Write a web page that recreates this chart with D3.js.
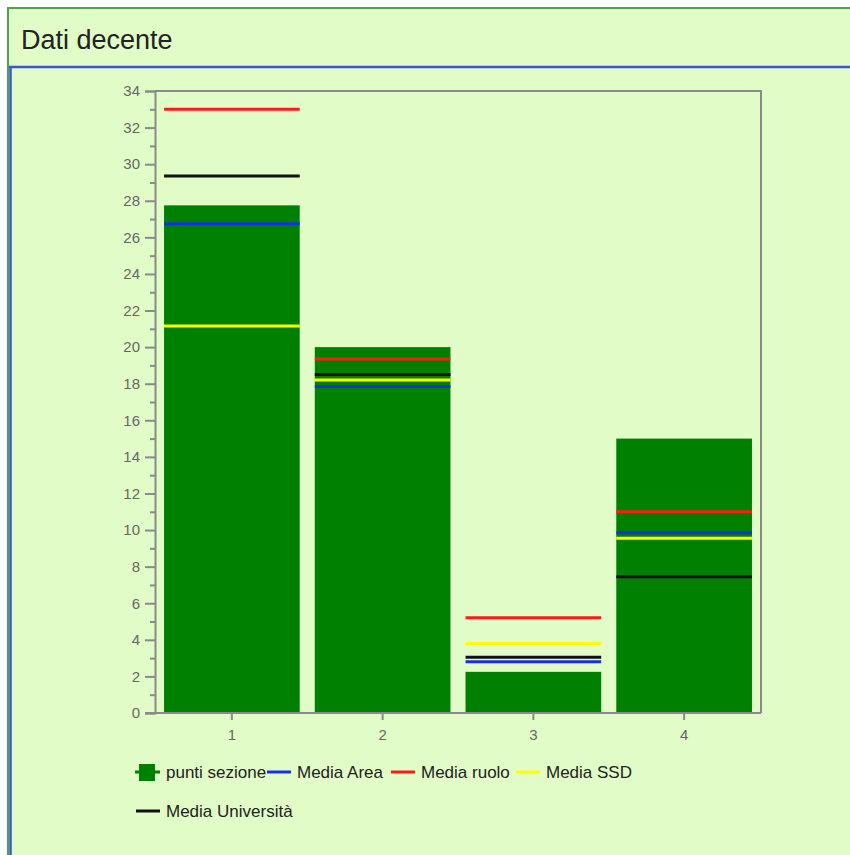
<!DOCTYPE html>
<html>
<head>
<meta charset="utf-8">
<script src="https://cdn.jsdelivr.net/npm/d3@7"></script>
<style>
  html, body { margin: 0; padding: 0; background: #ffffff; }
  svg { display: block; font-family: "Liberation Sans", Arial, sans-serif; }
</style>
</head>
<body>
<svg id="chart" width="850" height="855"></svg>
<script>
// ---- data ----
const title = "Dati decente";
const categories = ["1", "2", "3", "4"];
const puntiSezione = [27.75, 20.0, 2.25, 15.0];
const mediaArea = [26.75, 17.85, 2.8, 9.85];
const mediaRuolo = [33.0, 19.35, 5.2, 11.0];
const mediaSSD = [21.15, 18.2, 3.8, 9.55];
const mediaUniversita = [29.35, 18.5, 3.05, 7.45];
const yTicks = d3.range(0, 35, 2);
const yMinorTicks = d3.range(1, 34, 2);

const seriesLines = [
  { name: "Media Area", values: mediaArea, color: "#1530e0" },
  { name: "Media ruolo", values: mediaRuolo, color: "#ff1a1a" },
  { name: "Media SSD", values: mediaSSD, color: "#ffff00" },
  { name: "Media Università", values: mediaUniversita, color: "#111111" }
];
// draw order (bottom to top) to mimic overlaps
const drawOrder = ["Media Area", "Media SSD", "Media Università", "Media ruolo"];

const svg = d3.select("#chart");
const bg = "#e1fcc7";

// panel background and borders
svg.append("rect").attr("x", 8).attr("y", 8).attr("width", 842).attr("height", 847).attr("fill", bg);
svg.append("line").attr("x1", 7).attr("x2", 850).attr("y1", 8).attr("y2", 8)
  .attr("stroke", "#4aa64a").attr("stroke-width", 2);
svg.append("line").attr("x1", 8).attr("x2", 8).attr("y1", 7).attr("y2", 855)
  .attr("stroke", "#4aa64a").attr("stroke-width", 2);
svg.append("line").attr("x1", 9).attr("x2", 850).attr("y1", 67).attr("y2", 67)
  .attr("stroke", "#3a55d8").attr("stroke-width", 2.5);
svg.append("line").attr("x1", 10.5).attr("x2", 10.5).attr("y1", 66).attr("y2", 855)
  .attr("stroke", "#3a55d8").attr("stroke-width", 2.5);

svg.append("text").attr("x", 21).attr("y", 49)
  .attr("font-size", 27).attr("fill", "#222").text(title);

// ---- scales ----
const plot = { left: 155, right: 761, top: 91, bottom: 713 };
const x = d3.scaleBand().domain(categories).range([plot.left, plot.right])
  .paddingInner(0.1).paddingOuter(0.06);
const y = d3.scaleLinear().domain([0, 34]).range([plot.bottom, plot.top]);

const axisColor = "#8a8a8a";

// bars
svg.append("g").selectAll("rect").data(categories).join("rect")
  .attr("x", d => x(d))
  .attr("width", x.bandwidth())
  .attr("y", (d, i) => y(puntiSezione[i]))
  .attr("height", (d, i) => y(0) - y(puntiSezione[i]))
  .attr("fill", "#008000");

// mean lines
const lineG = svg.append("g");
drawOrder.forEach(name => {
  const s = seriesLines.find(z => z.name === name);
  lineG.append("g").selectAll("line").data(categories).join("line")
    .attr("x1", d => x(d))
    .attr("x2", d => x(d) + x.bandwidth())
    .attr("y1", (d, i) => y(s.values[i]))
    .attr("y2", (d, i) => y(s.values[i]))
    .attr("stroke", s.color).attr("stroke-width", 3);
});

// frame
svg.append("path")
  .attr("d", `M${plot.left},${plot.top}H${plot.right}V${plot.bottom}`)
  .attr("fill", "none").attr("stroke", axisColor).attr("stroke-width", 2);

// y axis
const yAxis = d3.axisLeft(y).tickValues(yTicks).tickSize(10).tickPadding(5).tickFormat(d3.format("d"));
const yg = svg.append("g").attr("transform", `translate(${plot.left},0)`).call(yAxis);
yg.select(".domain").attr("stroke", axisColor).attr("stroke-width", 2);
yg.selectAll(".tick line").attr("stroke", axisColor).attr("stroke-width", 2);
yg.selectAll(".tick text").attr("fill", "#666").attr("font-size", 15)
  .attr("font-family", "'Liberation Sans', Arial, sans-serif");
const yMinor = d3.axisLeft(y).tickValues(yMinorTicks).tickSize(5).tickFormat("");
const ymg = svg.append("g").attr("transform", `translate(${plot.left},0)`).call(yMinor);
ymg.select(".domain").remove();
ymg.selectAll(".tick line").attr("stroke", axisColor).attr("stroke-width", 2);

// x axis
const xAxis = d3.axisBottom(x).tickSize(7).tickPadding(9).tickSizeOuter(0);
const xg = svg.append("g").attr("transform", `translate(0,${plot.bottom})`).call(xAxis);
xg.select(".domain").attr("stroke", axisColor).attr("stroke-width", 2)
  .attr("d", `M${plot.left - 10},0H${plot.right}`);
xg.selectAll(".tick line").attr("stroke", axisColor).attr("stroke-width", 2);
xg.selectAll(".tick text").attr("fill", "#666").attr("font-size", 15)
  .attr("font-family", "'Liberation Sans', Arial, sans-serif");

// legend
const legendItems = [
  { name: "punti sezione", color: "#008000", type: "bar", x: 135, y: 772 },
  { name: "Media Area", color: "#1530e0", type: "line", x: 267, y: 772 },
  { name: "Media ruolo", color: "#ff1a1a", type: "line", x: 391, y: 772 },
  { name: "Media SSD", color: "#ffff00", type: "line", x: 516, y: 772 },
  { name: "Media Università", color: "#111111", type: "line", x: 136, y: 811 }
];
const lg = svg.append("g");
legendItems.forEach(it => {
  const g = lg.append("g");
  if (it.type === "bar") {
    g.append("line").attr("x1", it.x).attr("x2", it.x + 25).attr("y1", it.y).attr("y2", it.y)
      .attr("stroke", it.color).attr("stroke-width", 3);
    g.append("rect").attr("x", it.x + 4).attr("y", it.y - 8).attr("width", 16).attr("height", 17)
      .attr("fill", it.color);
    g.append("text").attr("x", it.x + 31).attr("y", it.y + 6).attr("font-size", 17)
      .attr("fill", "#222").text(it.name);
  } else {
    g.append("line").attr("x1", it.x).attr("x2", it.x + 24).attr("y1", it.y).attr("y2", it.y)
      .attr("stroke", it.color).attr("stroke-width", 3);
    g.append("text").attr("x", it.x + (it.name === "Media Università" ? 30 : 30)).attr("y", it.y + 6)
      .attr("font-size", 17).attr("fill", "#222").text(it.name);
  }
});
</script>
</body>
</html>
